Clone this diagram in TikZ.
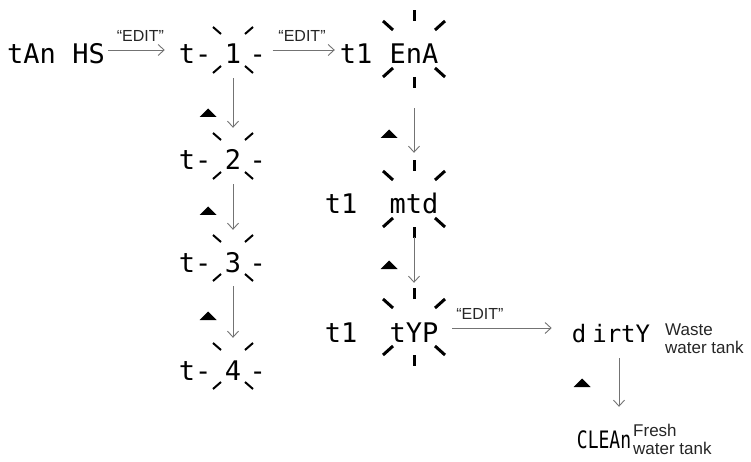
\documentclass[tikz,border=0pt]{standalone}
\usepackage{fontspec}
\setsansfont{Liberation Sans}
\newfontfamily\segfont{DejaVu Sans Mono}
\newfontfamily\segnarrow[FakeStretch=0.75]{DejaVu Sans Mono}
\usetikzlibrary{positioning,arrows.meta}
\tikzstyle{seg}=[inner sep=0pt, text height=20pt, text depth=0pt, font=\segfont\fontsize{27}{27}\selectfont]
\tikzstyle{flow}=[draw=black!55, line width=0.9pt, -{Straight Barb[length=6pt,width=11pt]}]
\tikzstyle{edit}=[inner sep=0pt, above=8pt, font=\sffamily\fontsize{16}{16}\selectfont, text=black!85]
\tikzstyle{note}=[inner sep=0pt, anchor=north west, align=left, font=\sffamily\fontsize{17}{18}\selectfont, text=black!85]
\tikzstyle{ray}=[line width=2pt]
\tikzstyle{bigray}=[line width=3pt]
% blinking marks round a digit (4 rays) or a word (6 rays)
\newcommand{\blinksmall}[1]{%
    \foreach \sx in {-1,1} {
        \foreach \sy in {-1,1} {
            \draw[ray] ([shift={(\sx*12,\sy*16-4)}]#1.center) -- ([shift={(\sx*20,\sy*23-4)}]#1.center);
        }
    }
}
\newcommand{\blinkbig}[1]{%
    \foreach \sx in {-1,1} {
        \foreach \sy in {-1,1} {
            \draw[bigray] ([shift={(\sx*21,\sy*19-5)}]#1.center) -- ([shift={(\sx*31,\sy*28-5)}]#1.center);
        }
    }
    \foreach \sy in {-1,1} {
        \draw[bigray] ([shift={(0,\sy*28-5)}]#1.center) -- ([shift={(0,\sy*39-5)}]#1.center);
    }
}

\begin{document}
\begin{tikzpicture}[x=1pt,y=-1pt]
    \fill[white] (0,0) rectangle (751,462);
    \useasboundingbox (0,0) rectangle (751,462);

    % tank numbers t-1 .. t-4
    \foreach \d/\y in {1/54,2/160,3/262,4/370} {
        \node[seg] (dig\d) at (233,\y) {\d};
        \node[seg, left=13pt of dig\d] (pre\d) {t-};
        \node[seg, right=8pt of dig\d] (suf\d) {-};
        \blinksmall{dig\d}
    }

    \node[seg] (tanhs) at (56,54) {tAn HS};
    \node[seg] (tena) at (356,54) {t1};
    \node[seg] (ena) at (414,54) {EnA};
    \node[seg] (tmtd) at (341,204) {t1};
    \node[seg] (mtd) at (414,204) {mtd};
    \node[seg] (ttyp) at (341,332) {t1};
    \node[seg] (typ) at (414,332) {tYP};
    \node[seg, font=\segfont\fontsize{24}{24}\selectfont] (dirty) at (611,332) {d\hspace{6pt}irtY};
    \node[seg, font=\segnarrow\fontsize{24}{24}\selectfont] (clean) at (604,438) {CLEAn};

    \blinkbig{ena}
    \blinkbig{mtd}
    \blinkbig{typ}

    \node[note] (waste) at (665,324) {Waste\\water tank};
    \node[note] (fresh) at (633,424) {Fresh\\water tank};

    % EDIT steps
    \draw[flow, shorten <=3pt, shorten >=14pt] ([yshift=4pt]tanhs.east) -- ([yshift=4pt]pre1.west) node[edit, pos=0.48] {“EDIT”};
    \draw[flow, shorten <=6.6pt, shorten >=4.75pt] ([yshift=4pt]suf1.east) -- ([yshift=4pt]tena.west) node[edit, pos=0.49] {“EDIT”};
    \draw[flow, shorten <=13.6pt, shorten >=20pt] ([yshift=4pt]typ.east) -- ([yshift=4pt]dirty.west) node[edit, pos=0.31] {“EDIT”};

    % up key steps
    \foreach \a/\b in {1/2,2/3,3/4}
        \draw[flow, shorten <=14pt, shorten >=22pt] (dig\a) -- (dig\b);
    \draw[flow, shorten <=44pt, shorten >=41pt] (ena) -- (mtd);
    \draw[flow, shorten <=23pt, shorten >=39pt] (mtd) -- (typ);
    \draw[flow, shorten <=16pt, shorten >=21pt] ([xshift=8pt]dirty.south) -- ([xshift=15pt]clean.north);

    \foreach \x/\y in {208/113,208/211,208/316,389/134,389/265,582/383}
        \fill (\x-8.5,\y+4) -- (\x+8.5,\y+4) -- (\x,\y-4.5) -- cycle;
\end{tikzpicture}
\end{document}
